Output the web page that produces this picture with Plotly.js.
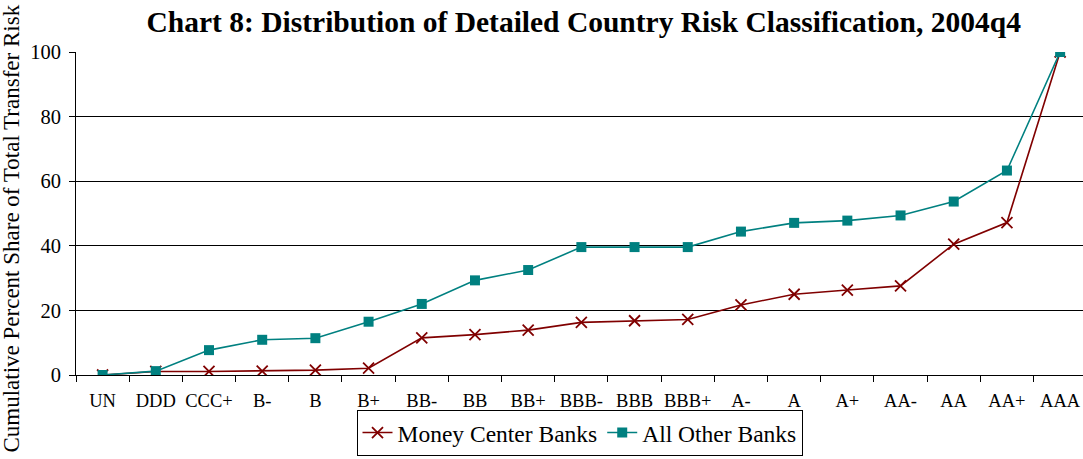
<!DOCTYPE html>
<html>
<head>
<meta charset="utf-8">
<script src="https://cdn.plot.ly/plotly-3.0.1.min.js"></script>
<style>
  html, body { margin: 0; padding: 0; background: #fff; }
  #chart { width: 1083px; height: 459px; }
</style>
</head>
<body>
<div id="chart"></div>
<script>
// Country risk ratings, lowest to highest
const ratings = ["UN", "DDD", "CCC+", "B-", "B", "B+", "BB-", "BB", "BB+", "BBB-",
                 "BBB", "BBB+", "A-", "A", "A+", "AA-", "AA", "AA+", "AAA"];

// Cumulative percent share of total transfer risk
const moneyCenterBanks = [0, 1.1, 1.1, 1.2, 1.5, 2.1, 11.5, 12.5, 13.9, 16.3,
                          16.8, 17.2, 21.7, 25.0, 26.3, 27.6, 40.5, 47.2, 100];
const allOtherBanks = [0, 1.2, 7.7, 10.9, 11.4, 16.5, 22.0, 29.3, 32.5, 39.6,
                       39.6, 39.6, 44.4, 47.1, 47.8, 49.4, 53.7, 63.3, 100];

const yTicks = [0, 20, 40, 60, 80, 100];

const serif = "Liberation Serif, Times New Roman, serif";

const traces = [
  {
    type: "scatter", mode: "lines+markers", name: "Money Center Banks",
    x: ratings, y: moneyCenterBanks,
    line: { color: "#800000", width: 1.6 },
    marker: { symbol: "x-thin", size: 11, color: "#800000",
              line: { color: "#800000", width: 1.8 } }
  },
  {
    type: "scatter", mode: "lines+markers", name: "All Other Banks",
    x: ratings, y: allOtherBanks,
    line: { color: "#008080", width: 1.6 },
    marker: { symbol: "square", size: 10, color: "#008080" }
  }
];

const layout = {
  width: 1083, height: 459,
  margin: { l: 76, r: 0, t: 52, b: 84 },
  paper_bgcolor: "#fff", plot_bgcolor: "#fff",
  font: { family: serif, color: "#000" },
  title: {
    text: "<b>Chart 8: Distribution of Detailed Country Risk Classification, 2004q4</b>",
    font: { family: serif, size: 29.5, color: "#000" },
    x: 0.539, xanchor: "center", y: 0.952, yanchor: "middle"
  },
  xaxis: {
    type: "category", categoryorder: "array", categoryarray: ratings,
    range: [-0.5, 18.43], tickangle: 0, automargin: false,
    tickson: "boundaries", ticks: "outside", ticklen: 6, tickcolor: "#000",
    showline: true, linecolor: "#000", linewidth: 1,
    showgrid: false, zeroline: false,
    tickfont: { family: serif, size: 18.5, color: "#000" },
    ticklabelstandoff: 9
  },
  yaxis: {
    range: [0, 100], tickvals: yTicks, ticktext: yTicks.map(String),
    ticks: "outside", ticklen: 6, tickcolor: "#000", automargin: false,
    showline: true, linecolor: "#000", linewidth: 1,
    showgrid: true, gridcolor: "#000", gridwidth: 1, zeroline: false,
    tickfont: { family: serif, size: 20.5, color: "#000" },
    ticklabelstandoff: 4
  },
  // vertical axis caption, placed by hand so it can run the full page height
  annotations: [{
    text: "Cumulative Percent Share of Total Transfer Risk",
    xref: "paper", yref: "paper",
    x: -0.065, xanchor: "center", y: 0.452, yanchor: "middle",
    textangle: -90, showarrow: false,
    font: { family: serif, size: 23, color: "#000" }
  }],
  showlegend: true,
  legend: {
    orientation: "h", x: 0.5, xanchor: "center", y: -0.25, yanchor: "bottom",
    bordercolor: "#000", borderwidth: 1, bgcolor: "#fff",
    font: { family: serif, size: 23.5, color: "#000" },
    itemwidth: 30, tracegroupgap: 0
  }
};

Plotly.newPlot("chart", traces, layout, { displayModeBar: false, staticPlot: true });
</script>
</body>
</html>
